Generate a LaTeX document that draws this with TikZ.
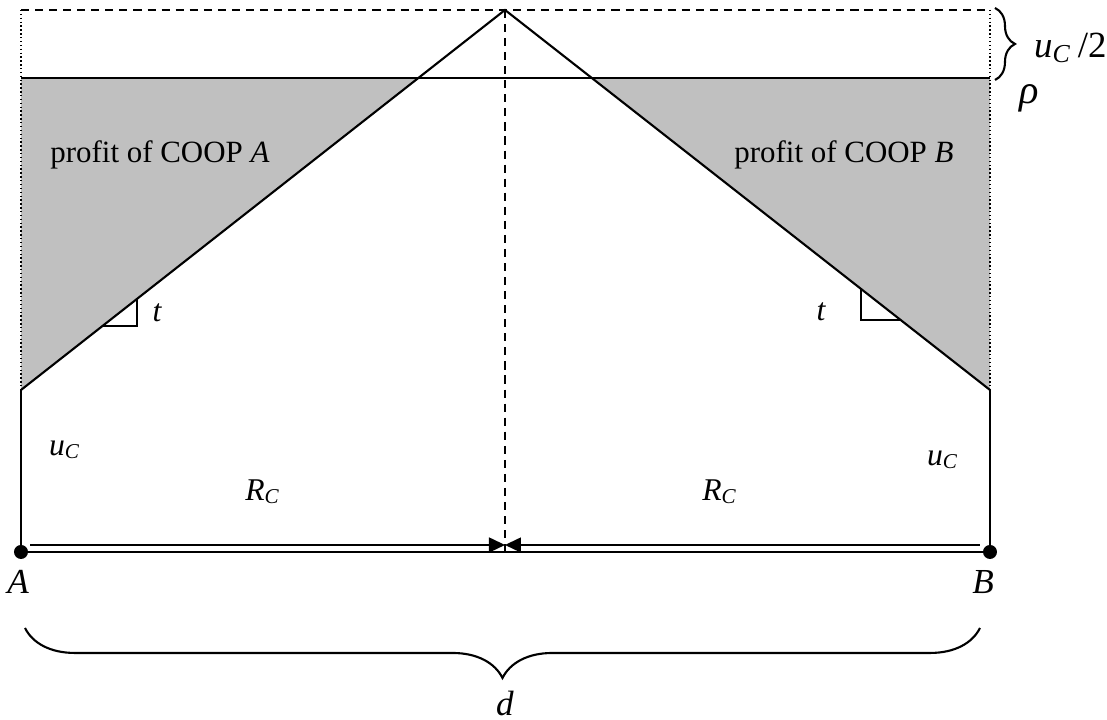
\documentclass[tikz,border=0pt]{standalone}
\usepackage{fontspec}
\setmainfont{Liberation Serif}
\usetikzlibrary{arrows.meta,decorations.pathreplacing}
\definecolor{grisClaro}{HTML}{C0C0C0}
\tikzset{
  etiq/.style={font=\fontsize{9}{11}\selectfont\itshape,inner sep=0pt},
  etiqG/.style={font=\fontsize{10}{12}\selectfont\itshape,inner sep=0pt},
  texto/.style={font=\fontsize{8.8}{10}\selectfont,inner sep=0pt},
  punta/.style={-{Triangle[length=1.6mm,width=1.5mm]},line width=0.4pt},
  rayas/.style={dash pattern=on 2.3pt off 1.7pt,line width=0.5pt},
  puntos/.style={dash pattern=on 0.4pt off 0.7pt,line width=0.5pt},
  llave/.style={decorate,line width=0.6pt},
}

\begin{document}
\begin{tikzpicture}[line width=0.6pt]
  \useasboundingbox (0,0) rectangle (11.07,7.20);
  \coordinate (A) at (0.21,1.68);
  \coordinate (B) at (9.90,1.68);
  \coordinate (Au) at (0.21,3.30);
  \coordinate (Bu) at (9.90,3.30);
  \coordinate (At) at (0.21,7.10);
  \coordinate (Bt) at (9.90,7.10);
  \coordinate (cima) at (5.05,7.10);
  \coordinate (Ar) at (0.21,6.42);
  \coordinate (Br) at (9.90,6.42);
  \coordinate (gA) at (4.184,6.42);
  \coordinate (gB) at (5.918,6.42);
  \coordinate (base) at (5.05,1.68);
  \coordinate (fA) at (0.30,1.75);
  \coordinate (fB) at (9.80,1.75);
  \coordinate (fM) at (5.05,1.75);

  % zonas de beneficio
  \fill[grisClaro] (Ar) -- (gA) -- (Au) -- cycle;
  \fill[grisClaro] (gB) -- (Br) -- (Bu) -- cycle;

  \draw[puntos] (At) -- (A);
  \draw[puntos] (Bt) -- (B);
  \draw[rayas] (At) -- (Bt);
  \draw[rayas] (cima) -- (base);
  \draw (Au) -- (A);
  \draw (Bu) -- (B);
  \draw (Au) -- (cima) -- (Bu);
  \draw (Ar) -- (Br);

  \draw[punta] (fA) -- (fM);
  \draw[punta] (fB) -- (fM);
  \draw[line width=0.8pt] (A) -- (B);
  \fill (A) circle (0.07);
  \fill (B) circle (0.07);

  % pendientes
  \draw[line width=0.5pt] (1.02,3.936) -- (1.37,3.936) -- (1.37,4.211);
  \draw[line width=0.5pt] (8.61,4.311) -- (8.61,4.00) -- (9.007,4.00);

  \node[texto] (benA) at (1.60,5.65) {profit of COOP \textit{A}};
  \node[texto] (benB) at (8.44,5.65) {profit of COOP \textit{B}};
  \node[etiq] (tA) at (1.57,4.07) {t};
  \node[etiq] (tB) at (8.21,4.08) {t};
  \node[etiq] (uA) at (0.65,2.70) {u\textsubscript{C}};
  \node[etiq] (uB) at (9.43,2.60) {u\textsubscript{C}};
  \node[etiq] (RA) at (2.63,2.28) {R\textsubscript{C}};
  \node[etiq] (RB) at (7.20,2.28) {R\textsubscript{C}};
  \node[etiqG] (nA) at (0.18,1.38) {A};
  \node[etiqG] (nB) at (9.83,1.38) {B};
  \node[etiqG,font=\fontsize{11.5}{13}\selectfont\itshape] (rho) at (10.29,6.22) {ρ};
  \node[etiq,font=\fontsize{10.5}{12}\selectfont,anchor=west] (mitad) at (10.33,6.72)
    {\textit{u}\textsubscript{\textit{C}}\,/2};
  \node[etiqG] (dist) at (5.05,0.16) {d};

  % llaves
  \draw[llave,decoration={brace,amplitude=2mm}] (9.95,7.12) -- (9.95,6.40);
  \draw[llave,decoration={brace,mirror,amplitude=5mm}] (0.25,0.92) -- (9.80,0.92);
\end{tikzpicture}
\end{document}
